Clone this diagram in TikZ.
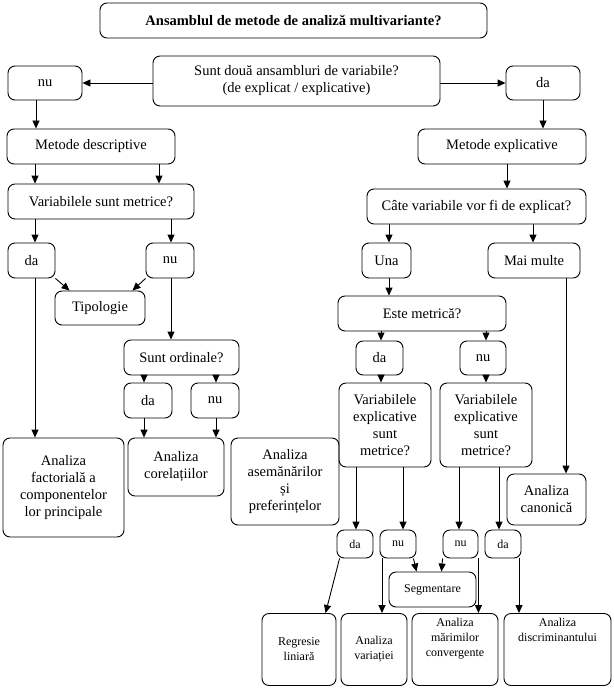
\documentclass[tikz,border=0pt]{standalone}
\usepackage{fontspec}
\setmainfont{Liberation Serif}
\usetikzlibrary{arrows.meta}
\begin{document}
\begin{tikzpicture}[x=1pt,y=-1pt,
  box/.style={draw, rounded corners=7pt, align=center, inner sep=0pt, line width=0.9pt,
    font=\fontsize{14.5}{17}\selectfont},
  smallbox/.style={box, font=\fontsize{12}{15}\selectfont},
  txt/.style={align=center, inner sep=0pt, font=\fontsize{12}{15}\selectfont},
  arr/.style={line width=0.9pt, -{Triangle[length=8pt,width=7pt]}},
  ln/.style={line width=0.9pt}]
\useasboundingbox (0,0) rectangle (613,690);
% nodes
\node[box, minimum width=387pt, minimum height=35pt, font=\bfseries\fontsize{14.5}{17}\selectfont] (title) at (293.5,20.5) {Ansamblul de metode de analiză multivariante?};
\node[box, minimum width=287pt, minimum height=50pt] (q1) at (296.5,81) {Sunt două ansambluri de variabile?\\(de explicat / explicative)};
\node[box, minimum width=74pt, minimum height=34pt] (nuA) at (45,83) {nu};
\node[box, minimum width=74pt, minimum height=34pt] (daA) at (543,83) {da};
\node[box, minimum width=168pt, minimum height=35pt] (desc) at (91,146.5) {Metode descriptive};
\node[box, minimum width=168pt, minimum height=35pt] (expl) at (502,146.5) {Metode explicative};
\node[box, minimum width=186pt, minimum height=35pt] (vsm) at (101,201.5) {Variabilele sunt metrice?};
\node[box, minimum width=219pt, minimum height=35pt] (cate) at (476.5,206.5) {Câte variabile vor fi de explicat?};
\node[box, minimum width=47pt, minimum height=35pt] (daB) at (31.5,260.5) {da};
\node[box, minimum width=48pt, minimum height=35pt] (nuB) at (170,260.5) {nu};
\node[box, minimum width=90pt, minimum height=34pt] (tip) at (100,308) {Tipologie};
\node[box, minimum width=49pt, minimum height=35pt] (una) at (386.5,260.5) {Una};
\node[box, minimum width=92pt, minimum height=35pt] (mai) at (534,260.5) {Mai multe};
\node[box, minimum width=168pt, minimum height=35pt] (este) at (422,313.5) {Este metrică?};
\node[box, minimum width=115pt, minimum height=35pt] (ord) at (181.5,357.5) {Sunt ordinale?};
\node[box, minimum width=48pt, minimum height=35pt] (daC) at (148,400.5) {da};
\node[box, minimum width=48pt, minimum height=35pt] (nuC) at (215,400.5) {nu};
\node[box, minimum width=121pt, minimum height=99pt] (fact) at (63.5,487.5) {Analiza\\factorială a\\componentelor\\lor principale};
\node[box, minimum width=96pt, minimum height=58pt] (cor) at (176,467) {Analiza\\corelațiilor};
\node[box, minimum width=108pt, minimum height=87pt] (ase) at (285,481.5) {Analiza\\asemănărilor\\și\\preferințelor};
\node[box, minimum width=47pt, minimum height=34pt] (daD) at (379.5,358) {da};
\node[box, minimum width=46pt, minimum height=34pt] (nuD) at (483,358) {nu};
\node[box, minimum width=92pt, minimum height=84pt] (veL) at (385,425) {Variabilele\\explicative\\sunt\\metrice?};
\node[box, minimum width=92pt, minimum height=84pt] (veR) at (486,425) {Variabilele\\explicative\\sunt\\metrice?};
\node[box, minimum width=79pt, minimum height=51pt] (can) at (546.5,499.5) {Analiza\\canonică};
\node[smallbox, minimum width=36pt, minimum height=28pt] (daE) at (355,544) {da};
\node[smallbox, minimum width=36pt, minimum height=28pt] (nuE) at (398,544) {nu};
\node[smallbox, minimum width=35pt, minimum height=28pt] (nuF) at (460.5,544) {nu};
\node[smallbox, minimum width=36pt, minimum height=28pt] (daF) at (503,544) {da};
\node[smallbox, minimum width=87pt, minimum height=35pt] (seg) at (432.5,589.5) {Segmentare};
\node[smallbox, minimum width=74pt, minimum height=72pt] (reg) at (299,649.5) {Regresie\\liniară};
\node[smallbox, minimum width=66pt, minimum height=72pt] (var) at (374,649.5) {Analiza\\variației};
\node[smallbox, minimum width=86pt, minimum height=72pt] (mar) at (455,649.5) {};
\node[txt, anchor=north] (martxt) at ([yshift=-5pt]mar.north) {Analiza\\mărimilor\\convergente};
\node[smallbox, minimum width=107pt, minimum height=72pt] (dis) at (557.5,649.5) {};
\node[txt, anchor=north] (distxt) at ([yshift=-5pt]dis.north) {Analiza\\discriminantului};
% connectors
\draw[arr] (q1.west |- nuA.east) -- (nuA.east);
\draw[arr] (q1.east |- daA.west) -- (daA.west);
\draw[arr] (nuA.south -| 36,0) -- (desc.north -| 36,0);
\draw[arr] (daA.south) -- (expl.north -| daA.south);
\draw[arr] (desc.south -| 35,0) -- (vsm.north -| 35,0);
\draw[arr] (desc.south -| 159,0) -- (vsm.north -| 159,0);
\draw[arr] (expl.south -| 507,0) -- (cate.north -| 507,0);
\draw[arr] (vsm.south -| 35,0) -- (daB.north -| 35,0);
\draw[arr] (vsm.south -| 171,0) -- (nuB.north -| 171,0);
\draw[arr] (cate.south -| 389,0) -- (una.north -| 389,0);
\draw[arr] (cate.south -| 533,0) -- (mai.north -| 533,0);
\draw[arr] (daB.south east) -- ([xshift=15pt]tip.north west);
\draw[arr] (nuB.south west) -- ([xshift=-13pt]tip.north east);
\draw[arr] (daB.south -| 35,0) -- (fact.north -| 35,0);
\draw[arr] (nuB.south -| 171,0) -- (ord.north -| 171,0);
\draw[arr] (una.south -| 389,0) -- (este.north -| 389,0);
\draw[arr] (ord.south -| 144,0) -- (daC.north -| 144,0);
\draw[arr] (ord.south -| 216,0) -- (nuC.north -| 216,0);
\draw[arr] (daC.south -| 144,0) -- (cor.north -| 144,0);
\draw[arr] (nuC.south -| 216,0) -- (cor.north -| 216,0);
\draw[arr] (este.south -| 381,0) -- (daD.north -| 381,0);
\draw[arr] (este.south -| 486,0) -- (nuD.north -| 486,0);
\draw[arr] (daD.south -| 381,0) -- (veL.north -| 381,0);
\draw[arr] (nuD.south -| 486,0) -- (veR.north -| 486,0);
\draw[arr] (mai.south -| 566,0) -- (can.north -| 566,0);
\draw[arr] (veL.south -| 356,0) -- (daE.north -| 356,0);
\draw[arr] (veL.south -| 403,0) -- (nuE.north -| 403,0);
\draw[arr] (veR.south -| 459,0) -- (nuF.north -| 459,0);
\draw[arr] (veR.south -| 499,0) -- (daF.north -| 499,0);
\draw[arr] ([xshift=3pt]daE.south west) -- ([xshift=64pt]reg.north west);
\draw[arr] (nuE.south -| 382,0) -- (var.north -| 382,0);
\draw[arr] ([xshift=-3pt]nuE.south east) -- ([xshift=28pt]seg.north west);
\draw[arr] (nuF.south west) -- ([xshift=-35pt]seg.north east);
\draw[arr] (nuF.south east) -- (mar.north -| nuF.south east);
\draw[arr] (daF.south -| 519,0) -- (dis.north -| 519,0);
\end{tikzpicture}
\end{document}
